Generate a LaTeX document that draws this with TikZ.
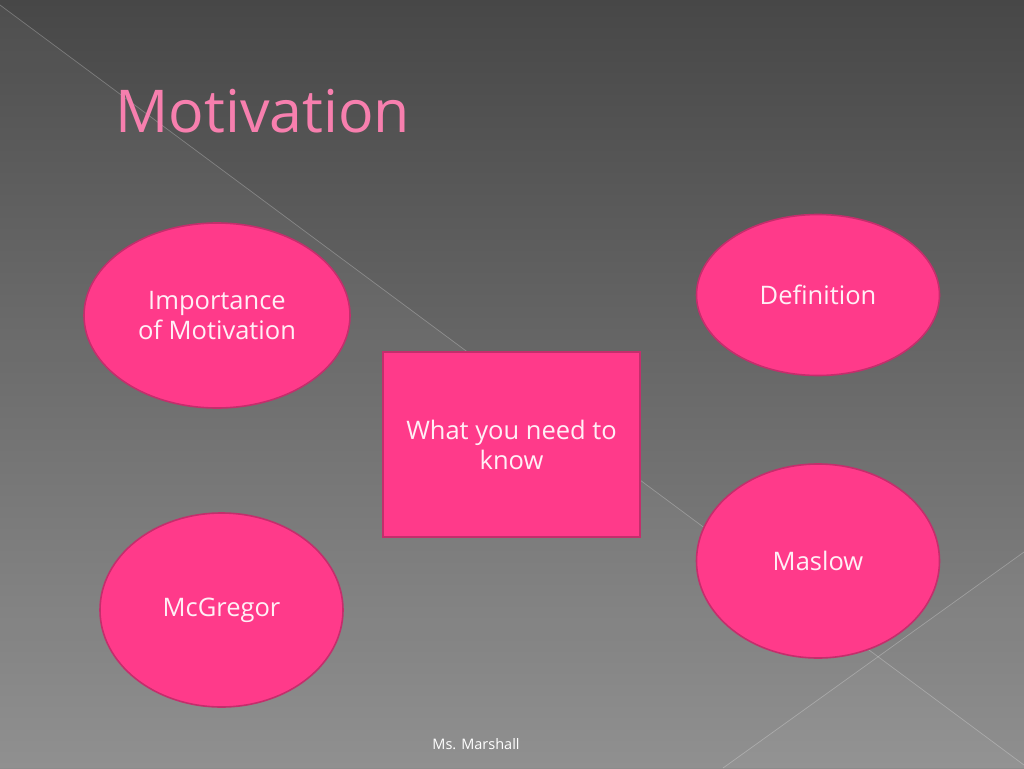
\documentclass[tikz,border=0pt]{standalone}
\usepackage{fontspec}
\setmainfont{Open Sans}
\usetikzlibrary{shapes.geometric}

\definecolor{bgtop}{HTML}{474747}
\definecolor{bgbottom}{HTML}{8C8C8C}
\definecolor{pinkfill}{HTML}{FF3A8A}
\definecolor{pinkline}{HTML}{C42E6C}
\definecolor{titlepink}{HTML}{F77FAE}
\definecolor{lighttext}{HTML}{FFEFF6}

\tikzset{
	topic/.style={ellipse, fill=pinkfill, draw=pinkline, line width=1.6pt,
		text=lighttext, align=center, inner sep=0pt,
		font=\fontsize{25.5}{30}\selectfont},
	centrebox/.style={rectangle, fill=pinkfill, draw=pinkline, line width=1.6pt,
		text=lighttext, align=center, inner sep=0pt,
		minimum width=257pt, minimum height=185pt,
		font=\fontsize{25.5}{30}\selectfont},
	bgline/.style={draw=white, opacity=0.25, line width=0.7pt}
}

\begin{document}
\begin{tikzpicture}[x=1pt,y=1pt]
		\useasboundingbox (0,0) rectangle (1024,-768);
		
		% background
		\shade[top color=bgtop, bottom color=bgbottom] (0,0) rectangle (1024,-768);
		\fill[white, opacity=0.04] (0,-5)--(1024,-765)--(1024,-768)--(0,-768)--cycle;
		\fill[white, opacity=0.03] (1024,-552)--(723,-768)--(1024,-768)--cycle;
		\draw[bgline] (0,-5)--(1024,-765);
		\draw[bgline] (1024,-552)--(723,-768);
		
		\node at (112,-111) [anchor=west, text=titlepink, font=\fontsize{59}{68}\selectfont] (title) {Motivation};
		
		\node at (217,-315.5) [topic, minimum width=266pt, minimum height=185pt] (importance) {Importance\\of Motivation};
		\node at (818,-295) [topic, minimum width=243pt, minimum height=161pt] (definition) {Definition};
		\node at (511.5,-444.5) [centrebox] (know) {What you need to\\know};
		\node at (818,-561) [topic, minimum width=243pt, minimum height=194pt] (maslow) {Maslow};
		\node at (221.5,-610) [topic, minimum width=243pt, minimum height=194pt] (mcgregor) {McGregor};
		
		\node at (476,-744) [text=white, font=\fontsize{14.5}{17}\selectfont] (footer) {Ms. Marshall};
	\end{tikzpicture}
\end{document}
